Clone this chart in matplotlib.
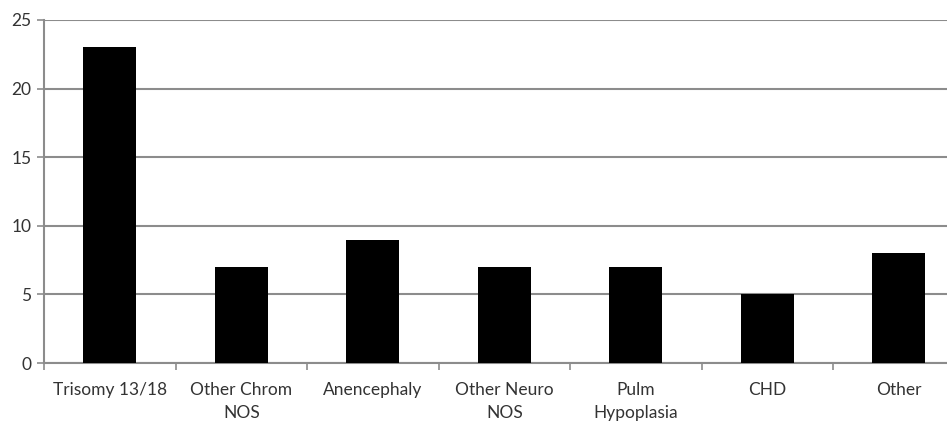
import matplotlib
matplotlib.use('Agg')
import matplotlib.pyplot as plt
import numpy as np

categories = ['Trisomy 13/18', 'Other Chrom\nNOS', 'Anencephaly', 'Other Neuro\nNOS',
              'Pulm\nHypoplasia', 'CHD', 'Other']
counts = [23, 7, 9, 7, 7, 5, 8]

plt.rcParams['font.family'] = ['Lato', 'DejaVu Sans']

fig = plt.figure(figsize=(9.47, 4.23), dpi=100)
ax = fig.add_axes([0.0465, 0.1418, 0.972, 0.811])

x = np.arange(len(categories))
ax.bar(x, counts, width=0.4, color='black', zorder=3)

ax.set_xlim(-0.5, len(categories) - 0.5)
ax.set_ylim(0, 25)
ax.set_yticks([0, 5, 10, 15, 20, 25])
ax.yaxis.grid(True, color='#8c8c8c', linewidth=1.5, zorder=0)

# category labels at centers, tick marks between categories
ax.set_xticks(x)
ax.set_xticklabels(categories, fontsize=12.5, color='#333333', linespacing=1.5)
ax.tick_params(axis='x', which='major', length=0, pad=14)
ax.set_xticks(np.arange(-0.5, len(categories), 1), minor=True)
ax.tick_params(axis='x', which='minor', length=5, color='#8c8c8c', width=1.2)
ax.tick_params(axis='y', length=5, color='#8c8c8c', width=1.2, labelsize=12.5,
               labelcolor='#333333', pad=4)

for s in ['top', 'right']:
    ax.spines[s].set_visible(False)
for s in ['left', 'bottom']:
    ax.spines[s].set_color('#8c8c8c')
    ax.spines[s].set_linewidth(1.5)

fig.savefig('out.png', dpi=100)
